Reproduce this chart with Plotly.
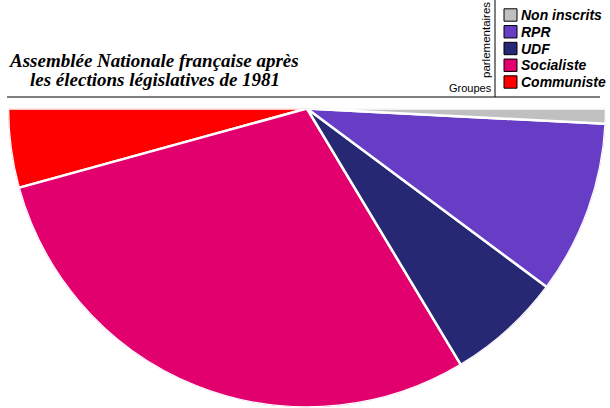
import plotly.graph_objects as go

parties = ["Communiste", "Socialiste", "UDF", "RPR", "Non inscrits"]
seats = [42, 288, 61, 92, 8]
colors = ["#ff0000", "#e2006f", "#272873", "#663dc4", "#c0c0c0"]
title_lines = ["Assemblée Nationale française après", "les élections législatives de 1981"]
legend_title = ["Groupes", "parlementaires"]

W, H = 610, 408
total = sum(seats)
fig = go.Figure()

start = 180.0
for name, s, c in zip(parties, seats, colors):
    span = s / total * 180.0
    fig.add_trace(go.Barpolar(
        r=[1], theta=[start + span / 2], width=[span],
        marker=dict(color=c, line=dict(color="white", width=2.5)),
        name=name, showlegend=False, hoverinfo="name",
    ))
    start += span

def px(x):
    return x / W

def py(y):
    return 1 - y / H

shapes = [
    dict(type="line", xref="paper", yref="paper", x0=px(7), x1=px(600),
         y0=py(97), y1=py(97), line=dict(color="black", width=1)),
    dict(type="line", xref="paper", yref="paper", x0=px(495), x1=px(495),
         y0=py(97), y1=1, line=dict(color="black", width=1)),
]
legend_font = dict(family="Liberation Sans, Arial", size=14, color="black",
                   weight="bold", style="italic")
annotations = []
# legend (top to bottom: reversed party order)
for row, (name, c) in enumerate(zip(parties[::-1], colors[::-1])):
    cy = 15 + row * 16.75
    shapes.append(dict(type="rect", xref="paper", yref="paper",
                       x0=px(504), x1=px(517), y0=py(cy - 6.2), y1=py(cy + 6.2),
                       fillcolor=c, line=dict(color="black", width=1)))
    annotations.append(dict(text=name, x=px(519), y=py(cy), xref="paper", yref="paper",
                            showarrow=False, xanchor="left", yanchor="middle",
                            font=legend_font))

title_font = dict(family="Liberation Serif, Times New Roman", size=19, color="black",
                  weight="bold", style="italic")
annotations += [
    dict(text=title_lines[0], x=px(154), y=py(60), xref="paper", yref="paper",
         showarrow=False, xanchor="center", yanchor="middle", font=title_font),
    dict(text=title_lines[1], x=px(155), y=py(80), xref="paper", yref="paper",
         showarrow=False, xanchor="center", yanchor="middle", font=title_font),
    dict(text=legend_title[0], x=px(470), y=py(88), xref="paper", yref="paper",
         showarrow=False, xanchor="center", yanchor="middle",
         font=dict(family="Liberation Sans, Arial", size=11, color="black")),
    dict(text=legend_title[1], x=px(486), y=py(40), xref="paper", yref="paper",
         showarrow=False, xanchor="center", yanchor="middle", textangle=-90,
         font=dict(family="Liberation Sans, Arial", size=11.5, color="black")),
]

fig.update_layout(
    width=W, height=H,
    margin=dict(l=0, r=0, t=0, b=0),
    paper_bgcolor="white", plot_bgcolor="rgba(0,0,0,0)",
    polar=dict(
        domain=dict(x=[px(8), px(606)], y=[0, 300 / H]),
        sector=[180, 360],
        bgcolor="white",
        radialaxis=dict(visible=False, range=[0, 1]),
        angularaxis=dict(visible=False, rotation=0, direction="counterclockwise"),
    ),
    showlegend=False,
    shapes=shapes,
    annotations=annotations,
)

fig.write_html("out.html", config={"displayModeBar": False},
               post_script="document.body.style.margin='0';document.body.style.padding='0';")
